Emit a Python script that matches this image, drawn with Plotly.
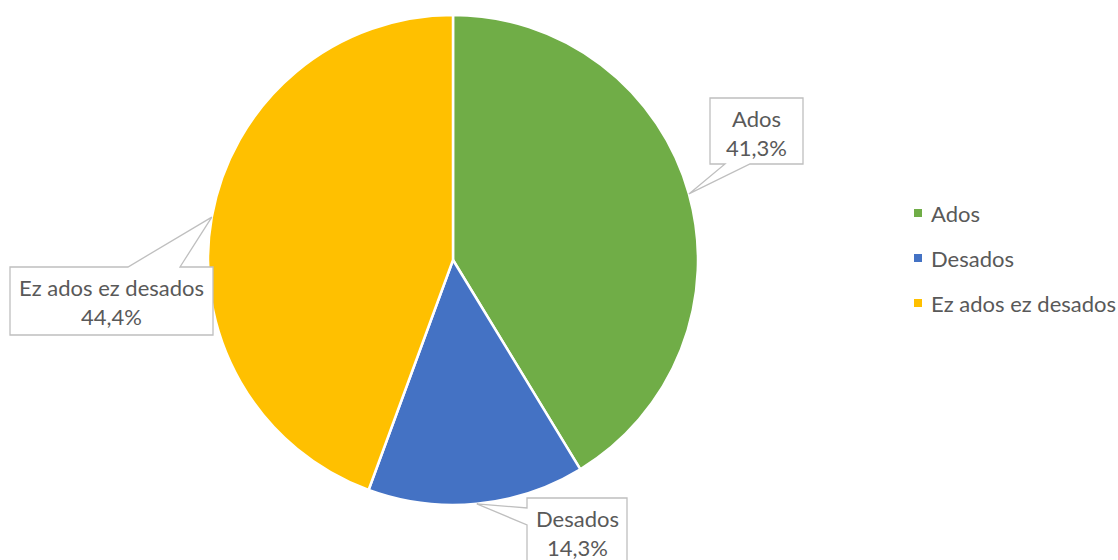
import math
import plotly.graph_objects as go

# Survey answers and their shares (percent)
labels = ["Ados", "Desados", "Ez ados ez desados"]
values = [41.3, 14.3, 44.4]
colors = ["#70AD47", "#4472C4", "#FFC000"]

W, H = 1118, 560
CX, CY, R = 453, 260, 245
FONT = "Lato"
TEXT_GREY = "#595959"
BOX_GREY = "#BFBFBF"
FSIZE = 22

# Callout box frames (pixel space) and the edge that carries the pointer
callouts = {
    "Ados": dict(box=(710, 98, 803, 164), side="bottom", base=(750, 725)),
    "Desados": dict(box=(527, 498, 627, 580), side="left", base=(525, 508)),
    "Ez ados ez desados": dict(box=(10, 267, 213, 335), side="top", base=(128, 180)),
}


def fmt_pct(v):
    return f"{v:.1f}".replace(".", ",") + "%"


fig = go.Figure()
fig.add_trace(go.Pie(
    labels=labels, values=values, sort=False,
    direction="clockwise", rotation=0,
    marker=dict(colors=colors, line=dict(color="white", width=2.5)),
    textinfo="none", hoverinfo="label+percent", showlegend=False,
    domain=dict(x=[(CX - R) / W, (CX + R) / W], y=[(H - CY - R) / H, (H - CY + R) / H]),
))

# invisible pixel-space axes for callouts and legend
fig.add_trace(go.Scatter(x=[0, W], y=[0, H], mode="markers",
                         marker=dict(opacity=0), hoverinfo="skip", showlegend=False))

shapes = []
annotations = []
total = sum(values)
cum = 0.0
for lab, val in zip(labels, values):
    mid = (cum + val / 2) / total * 2 * math.pi
    cum += val
    tx = CX + R * math.sin(mid)
    ty = CY - R * math.cos(mid)
    c = callouts[lab]
    x0, y0, x1, y1 = c["box"]
    b0, b1 = c["base"]
    if c["side"] == "bottom":
        pts = [(x0, y0), (x1, y0), (x1, y1), (b0, y1), (tx, ty), (b1, y1), (x0, y1)]
    elif c["side"] == "left":
        pts = [(x0, y0), (x1, y0), (x1, y1), (x0, y1), (x0, b0), (tx, ty), (x0, b1)]
    else:
        pts = [(x0, y0), (b0, y0), (tx, ty), (b1, y0), (x1, y0), (x1, y1), (x0, y1)]
    path = "M " + " L ".join(f"{px:.1f} {py:.1f}" for px, py in pts) + " Z"
    shapes.append(dict(type="path", path=path, xref="x", yref="y",
                       fillcolor="white", line=dict(color=BOX_GREY, width=1.3), layer="above"))
    xc = (x0 + x1) / 2
    for k, txt in enumerate([lab, fmt_pct(val)]):
        annotations.append(dict(x=xc, y=y0 + 20 + 29.5 * k, xref="x", yref="y", text=txt,
                                showarrow=False, xanchor="center", yanchor="middle",
                                font=dict(family=FONT, size=FSIZE, color=TEXT_GREY)))

# legend entries
for i, (lab, col) in enumerate(zip(labels, colors)):
    ly = 213 + 45 * i
    shapes.append(dict(type="rect", xref="x", yref="y", x0=914, x1=922, y0=ly - 4, y1=ly + 4,
                       fillcolor=col, line=dict(width=0)))
    annotations.append(dict(x=929, y=ly, xref="x", yref="y", text=lab, showarrow=False,
                            xanchor="left", yanchor="middle",
                            font=dict(family=FONT, size=FSIZE, color=TEXT_GREY)))

fig.update_layout(
    width=W, height=H, margin=dict(l=0, r=0, t=0, b=0),
    paper_bgcolor="white", plot_bgcolor="rgba(0,0,0,0)",
    xaxis=dict(range=[0, W], visible=False, fixedrange=True, domain=[0, 1]),
    yaxis=dict(range=[H, 0], visible=False, fixedrange=True, domain=[0, 1]),
    shapes=shapes, annotations=annotations, showlegend=False,
)

fig.write_html("out.html")
